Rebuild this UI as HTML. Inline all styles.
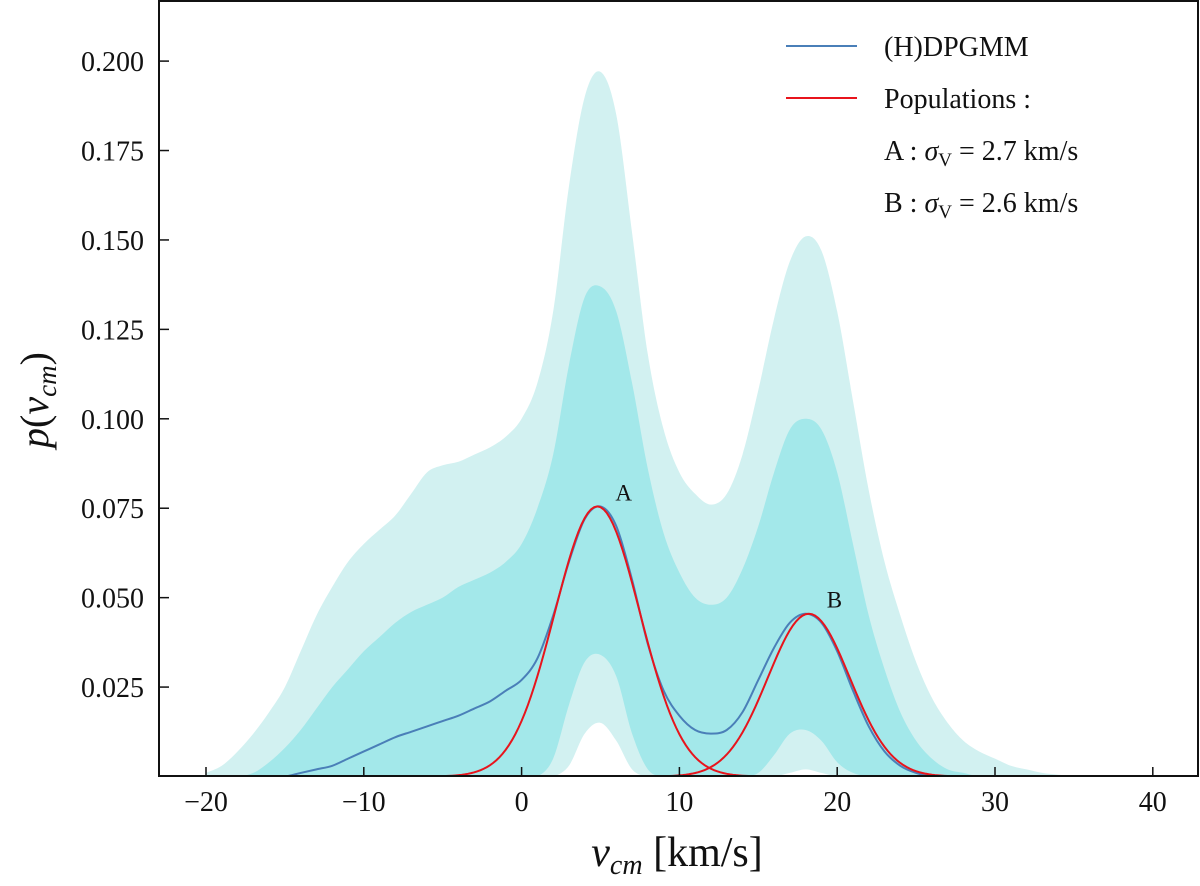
<!DOCTYPE html>
<html><head><meta charset="utf-8"><style>
body{margin:0;background:#fff}
svg text{font-family:"Liberation Serif","DejaVu Serif",serif;fill:#111}
</style></head><body>
<svg width="1200" height="881" id="chart"></svg>
<script>
const xs=[-20,-19,-18,-17,-16,-15,-14,-13,-12,-11,-10,-9,-8,-7,-6,-5,-4,-3,-2,-1,0,1,2,3,4,5,6,7,8,9,10,11,12,13,14,15,16,17,18,19,20,21,22,23,24,25,26,27,28,29,30,31,32,33,34,35];
const outerHi=[0.001,0.003,0.007,0.012,0.018,0.025,0.035,0.045,0.053,0.06,0.065,0.069,0.073,0.079,0.085,0.087,0.088,0.09,0.092,0.095,0.1,0.11,0.13,0.165,0.19,0.197,0.185,0.152,0.118,0.097,0.085,0.079,0.076,0.079,0.09,0.108,0.128,0.144,0.151,0.147,0.13,0.105,0.08,0.06,0.045,0.032,0.022,0.015,0.01,0.007,0.005,0.003,0.002,0.001,0.0005,0.0002];
const midHi=[0,0,0,0.001,0.004,0.008,0.013,0.019,0.025,0.03,0.035,0.039,0.043,0.046,0.048,0.05,0.053,0.055,0.057,0.06,0.065,0.075,0.09,0.115,0.134,0.137,0.13,0.11,0.086,0.068,0.057,0.05,0.048,0.05,0.058,0.07,0.085,0.097,0.1,0.097,0.085,0.065,0.045,0.03,0.018,0.01,0.005,0.002,0.001,0,0,0,0,0,0,0];
const midLo=[0,0,0,0,0,0,0,0,0,0,0,0,0,0,0,0,0,0,0,0,0,0,0.005,0.02,0.032,0.034,0.028,0.012,0.002,0,0,0,0,0,0,0.001,0.006,0.012,0.013,0.01,0.004,0.001,0,0,0,0,0,0,0,0,0,0,0,0,0,0];
const outerLo=[0,0,0,0,0,0,0,0,0,0,0,0,0,0,0,0,0,0,0,0,0,0,0,0.003,0.012,0.015,0.01,0.002,0,0,0,0,0,0,0,0,0,0.001,0.002,0.001,0,0,0,0,0,0,0,0,0,0,0,0,0,0,0,0];
const median=[0,0,0,0,0,0,0.001,0.002,0.003,0.005,0.007,0.009,0.011,0.0125,0.014,0.0155,0.017,0.019,0.021,0.024,0.027,0.033,0.045,0.06,0.072,0.0755,0.07,0.055,0.037,0.024,0.017,0.013,0.012,0.013,0.018,0.027,0.036,0.043,0.0455,0.043,0.035,0.024,0.014,0.007,0.003,0.001,0,0,0,0,0,0,0,0,0,0];
const popNames=["A","B"];
const popMeans=[4.8,18.2];
const popSigmas=[2.7,2.6];
const popPeaks=[0.0755,0.0455];
const xTicks=[-20,-10,0,10,20,30,40];
const yTicks=[0.025,0.05,0.075,0.1,0.125,0.15,0.175,0.2];

const L=159,R=1198,T=1,B=776;
const X=v=>521.6+(v)*15.78;
const Y=v=>776.5-v*3577;
const NS="http://www.w3.org/2000/svg";
const svg=document.getElementById('chart');
function mk(t,a,p){const e=document.createElementNS(NS,t);for(const k in a)e.setAttribute(k,a[k]);(p||svg).appendChild(e);return e;}
function smooth(pts){
  let d='M'+pts[0][0]+','+pts[0][1];
  for(let i=0;i<pts.length-1;i++){
    const p0=pts[Math.max(i-1,0)],p1=pts[i],p2=pts[i+1],p3=pts[Math.min(i+2,pts.length-1)];
    d+='C'+(p1[0]+(p2[0]-p0[0])/6)+','+(p1[1]+(p2[1]-p0[1])/6)+' '+(p2[0]-(p3[0]-p1[0])/6)+','+(p2[1]-(p3[1]-p1[1])/6)+' '+p2[0]+','+p2[1];
  }
  return d;
}
const clip=mk('clipPath',{id:'pc'});mk('rect',{x:L,y:T,width:R-L,height:B-T},clip);
const g=mk('g',{'clip-path':'url(#pc)'});
function band(hi,lo,fill,name){
  const top=xs.map((x,i)=>[X(x),Y(hi[i])]);
  const bot=xs.map((x,i)=>[X(x),Y(lo[i])]).reverse();
  let d=smooth(top)+'L'+smooth(bot).slice(1)+'Z';
  const p=mk('path',{d:d,fill:fill},g);
  
  
}
band(outerHi,outerLo,'#d2f1f1','outer-credible-band');
band(midHi,midLo,'#a3e8ea','inner-credible-band');
const med=mk('path',{d:smooth(xs.map((x,i)=>[X(x),Y(median[i])])),fill:'none',stroke:'#4a7fb8','stroke-width':2},g);


for(let k=0;k<popMeans.length;k++){
  let pts=[];
  for(let v=-5;v<=30;v+=0.2){pts.push(X(v)+','+Y(popPeaks[k]*Math.exp(-0.5*Math.pow((v-popMeans[k])/popSigmas[k],2))));}
  const p=mk('path',{d:'M'+pts.join('L'),fill:'none',stroke:'#e8141c','stroke-width':2},g);
  
  
  const t=mk('text',{x:X(popMeans[k])+18,y:Y(popPeaks[k])-6,'font-size':23});
  t.textContent=popNames[k];
  
  
}
const fr=mk('rect',{x:L,y:T,width:R-L,height:B-T,fill:'none',stroke:'#111','stroke-width':2});


xTicks.forEach(v=>{
  mk('line',{x1:X(v),x2:X(v),y1:B,y2:B-9,stroke:'#111','stroke-width':1.5});
  const t=mk('text',{x:X(v),y:B+35,'font-size':28,'text-anchor':'middle'});
  t.textContent=(v<0?'\u2212'+(-v):v);
  
  
});
yTicks.forEach(v=>{
  mk('line',{x1:L,x2:L+10,y1:Y(v),y2:Y(v),stroke:'#111','stroke-width':1.5});
  const t=mk('text',{x:144,y:Y(v)+10,'font-size':28,'text-anchor':'end'});
  t.textContent=v.toFixed(3);
  
  
});
</script>
<svg width="1200" height="881" style="position:absolute;left:0;top:0">
<text x="677" y="866" font-size="42" text-anchor="middle"><tspan font-style="italic">v</tspan><tspan font-style="italic" font-size="28" dy="8">cm</tspan><tspan dy="-8"> [km/s]</tspan></text>
<text transform="translate(48,400) rotate(-90)" font-size="40" text-anchor="middle"><tspan font-style="italic">p</tspan>(<tspan font-style="italic">v</tspan><tspan font-style="italic" font-size="27" dy="8">cm</tspan><tspan dy="-8">)</tspan></text>
<g>
<line x1="786" y1="46" x2="857" y2="46" stroke="#4a7fb8" stroke-width="2"/>
<text x="884" y="56" font-size="28">(H)DPGMM</text>
<line x1="786" y1="98" x2="857" y2="98" stroke="#e8141c" stroke-width="2"/>
<text x="884" y="108" font-size="28">Populations :</text>
<text x="884" y="160" font-size="28">A :  <tspan font-style="italic">σ</tspan><tspan font-size="19" dy="6">V</tspan><tspan dy="-6"> = 2.7 km/s</tspan></text>
<text x="884" y="212" font-size="28">B :  <tspan font-style="italic">σ</tspan><tspan font-size="19" dy="6">V</tspan><tspan dy="-6"> = 2.6 km/s</tspan></text>
</g>
</svg>
</body></html>
